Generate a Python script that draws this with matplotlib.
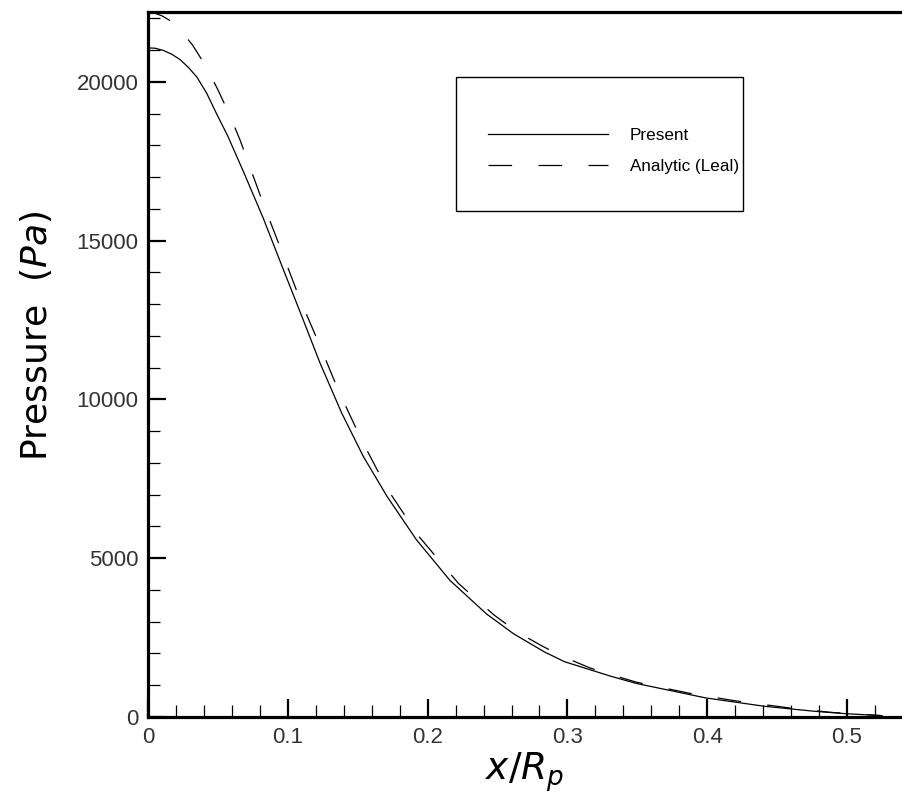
import matplotlib
matplotlib.use("Agg")
import matplotlib.pyplot as plt
import matplotlib.patches as patches
from matplotlib.ticker import MultipleLocator

# values
present_x = [0.0, 0.005, 0.011, 0.017, 0.023, 0.029, 0.035, 0.042, 0.049, 0.057,
             0.0682, 0.0825, 0.0968, 0.110, 0.123, 0.1385, 0.154, 0.171, 0.192, 0.216,
             0.242, 0.2615, 0.2835, 0.298, 0.331, 0.349, 0.399, 0.441, 0.477, 0.499, 0.525]
present_p = [21070, 21060, 20990, 20870, 20700, 20450, 20150, 19640, 19000, 18300,
             17180, 15700, 14090, 12620, 11150, 9575, 8205, 6945, 5580, 4300,
             3250, 2620, 2050, 1740, 1284, 1060, 600, 337, 179, 105, 42]

analytic_x = [0.0, 0.005, 0.01, 0.015, 0.02, 0.026, 0.032, 0.042, 0.05, 0.059,
              0.066, 0.071, 0.0818, 0.0949, 0.108, 0.1223, 0.1366, 0.1529, 0.171, 0.1939,
              0.222, 0.247, 0.263, 0.282, 0.296, 0.316, 0.331, 0.349, 0.386, 0.419,
              0.459, 0.488, 0.525]
analytic_p = [22180, 22160, 22080, 21950, 21760, 21480, 21150, 20450, 19750, 18900,
              18150, 17550, 16240, 14750, 13230, 11760, 10240, 8710, 7190, 5680,
              4210, 3230, 2705, 2232, 1916, 1547, 1337, 1100, 758, 516,
              284, 147, 42]

labels = ["Present", "Analytic (Leal)"]
xticks = [0, 0.1, 0.2, 0.3, 0.4, 0.5]
yticks = [0, 5000, 10000, 15000, 20000]

plt.rcParams['lines.scale_dashes'] = False

fig = plt.figure(figsize=(9.02, 8.06), dpi=100)
ax = fig.add_axes([148/902, 89/806, 754/902, 705/806])

l1, = ax.plot(present_x, present_p, color='black', lw=0.9)
l2, = ax.plot(analytic_x, analytic_p, color='black', lw=0.9, dashes=(17, 19))

ax.set_xlim(0, 0.5393)
ax.set_ylim(0, 22200)

ax.set_xticks(xticks)
ax.set_yticks(yticks)
ax.set_xticklabels(['0' if t == 0 else f'{t:.1f}' for t in xticks], family='Liberation Sans', fontsize=16, color='#333333')
ax.set_yticklabels([str(t) for t in yticks], family='Liberation Sans', fontsize=16, color='#333333')
ax.xaxis.set_minor_locator(MultipleLocator(0.02))
ax.yaxis.set_minor_locator(MultipleLocator(1000))
ax.tick_params(which='major', direction='in', length=13, width=1.6, pad=7, top=False, right=False)
ax.tick_params(which='minor', direction='in', length=8.5, width=0.9, top=False, right=False)

for s in ['left', 'bottom', 'top']:
    ax.spines[s].set_linewidth(2.3)
ax.spines['right'].set_visible(False)

ax.set_ylabel(r'Pressure  $\mathit{(Pa)}$', fontsize=26, family='DejaVu Sans')
ax.yaxis.set_label_coords(-0.125, 0.54)
ax.set_xlabel(r'$x/R_p$', fontsize=27, labelpad=2)

# legend with a square frame drawn separately
ax.legend([l1, l2], labels, loc='center left', bbox_to_anchor=((488 - 148)/754, (717 - 151)/705),
          frameon=False, handlelength=7.0, handletextpad=1.3, labelspacing=0.95,
          borderpad=0, borderaxespad=0, prop={'family': 'Liberation Sans', 'size': 12.3})
ax.add_patch(patches.Rectangle(((456 - 148)/754, (717 - 211)/705), (743 - 456)/754, (211 - 77)/705,
                               transform=ax.transAxes, fill=False, edgecolor='black', lw=1.0))

plt.savefig('out.png', dpi=100)
